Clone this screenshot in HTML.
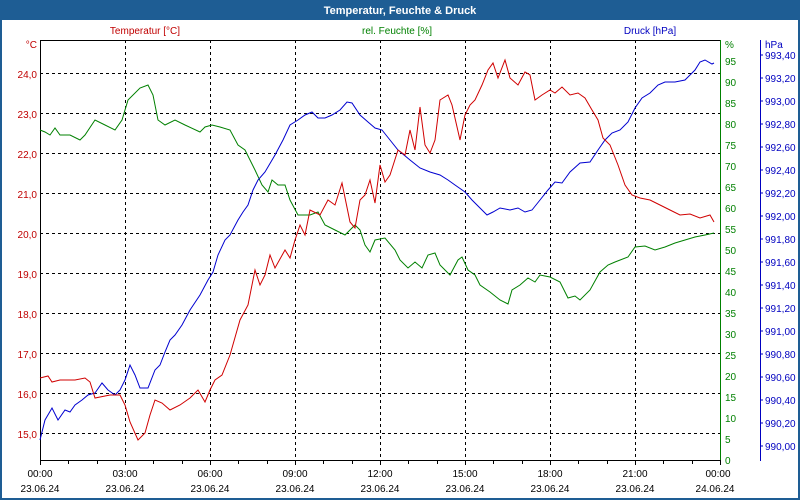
<!DOCTYPE html>
<html><head><style>
html,body{margin:0;padding:0;background:#fff}
svg{display:block;font-family:"Liberation Sans",sans-serif}
</style></head><body>
<svg width="800" height="500" viewBox="0 0 800 500" xmlns="http://www.w3.org/2000/svg">
<rect x="0" y="0" width="800" height="500" fill="#fff"/>
<rect x="1" y="1" width="798" height="498" fill="none" stroke="#1e5d94" stroke-width="2"/>
<rect x="0" y="0" width="800" height="20" fill="#1e5d94"/>
<text x="400" y="14" fill="#fff" font-size="11" font-weight="bold" text-anchor="middle">Temperatur, Feuchte &amp; Druck</text>
<g font-size="10">
<text x="145" y="34" fill="#c00000" text-anchor="middle">Temperatur [°C]</text>
<text x="397" y="34" fill="#008000" text-anchor="middle">rel. Feuchte [%]</text>
<text x="650" y="34" fill="#0000c0" text-anchor="middle">Druck [hPa]</text>
<text x="37" y="48" fill="#c00000" text-anchor="end">°C</text>
<text x="725" y="48" fill="#008000">%</text>
<text x="765" y="48" fill="#0000c0">hPa</text>
</g>
<!-- grid -->
<g stroke="#000" stroke-width="1" stroke-dasharray="3,3">
<line x1="40" y1="73.5" x2="720" y2="73.5"/><line x1="40" y1="113.5" x2="720" y2="113.5"/>
<line x1="40" y1="153.5" x2="720" y2="153.5"/><line x1="40" y1="193.5" x2="720" y2="193.5"/>
<line x1="40" y1="233.5" x2="720" y2="233.5"/><line x1="40" y1="273.5" x2="720" y2="273.5"/>
<line x1="40" y1="313.5" x2="720" y2="313.5"/><line x1="40" y1="353.5" x2="720" y2="353.5"/>
<line x1="40" y1="393.5" x2="720" y2="393.5"/><line x1="40" y1="433.5" x2="720" y2="433.5"/>
<line x1="125.5" y1="40" x2="125.5" y2="460"/><line x1="210.5" y1="40" x2="210.5" y2="460"/>
<line x1="295.5" y1="40" x2="295.5" y2="460"/><line x1="380.5" y1="40" x2="380.5" y2="460"/>
<line x1="465.5" y1="40" x2="465.5" y2="460"/><line x1="550.5" y1="40" x2="550.5" y2="460"/>
<line x1="635.5" y1="40" x2="635.5" y2="460"/>
</g>
<line x1="40" y1="40.5" x2="720" y2="40.5" stroke="#000"/>
<line x1="40.5" y1="40" x2="40.5" y2="461" stroke="#000"/>
<line x1="40" y1="460.5" x2="720" y2="460.5" stroke="#000"/>
<line x1="720.5" y1="40" x2="720.5" y2="461" stroke="#008000"/>
<line x1="760.5" y1="40" x2="760.5" y2="461" stroke="#0000c0"/>
<g stroke="#000">
<path d="M40.5 460v5M68.5 460v4M97.5 460v4M125.5 460v5M153.5 460v4M182.5 460v4M210.5 460v5M238.5 460v4M267.5 460v4M295.5 460v5M323.5 460v4M352.5 460v4M380.5 460v5M408.5 460v4M437.5 460v4M465.5 460v5M493.5 460v4M522.5 460v4M550.5 460v5M578.5 460v4M607.5 460v4M635.5 460v5M663.5 460v4M692.5 460v4M720.5 460v5"/>
</g>
<g font-size="10" fill="#c00000" text-anchor="end">
<text x="37" y="78">24,0</text><text x="37" y="118">23,0</text><text x="37" y="158">22,0</text>
<text x="37" y="198">21,0</text><text x="37" y="238">20,0</text><text x="37" y="278">19,0</text>
<text x="37" y="318">18,0</text><text x="37" y="358">17,0</text><text x="37" y="398">16,0</text>
<text x="37" y="438">15,0</text>
</g>
<g font-size="10" fill="#008000">
<text x="725" y="464">0</text><text x="725" y="443">5</text><text x="725" y="422">10</text>
<text x="725" y="401">15</text><text x="725" y="380">20</text><text x="725" y="359">25</text>
<text x="725" y="338">30</text><text x="725" y="317">35</text><text x="725" y="296">40</text>
<text x="725" y="275">45</text><text x="725" y="254">50</text><text x="725" y="233">55</text>
<text x="725" y="212">60</text><text x="725" y="191">65</text><text x="725" y="170">70</text>
<text x="725" y="149">75</text><text x="725" y="128">80</text><text x="725" y="107">85</text>
<text x="725" y="86">90</text><text x="725" y="65">95</text>
</g>
<g font-size="10" fill="#0000c0">
<path d="M760 446h3M760 423h3M760 400h3M760 377h3M760 354h3M760 331h3M760 308h3M760 285h3M760 262h3M760 239h3M760 216h3M760 193h3M760 170h3M760 147h3M760 124h3M760 101h3M760 78h3M760 55h3" stroke="#0000c0"/>
<text x="765" y="450">990,00</text><text x="765" y="427">990,20</text><text x="765" y="404">990,40</text>
<text x="765" y="381">990,60</text><text x="765" y="358">990,80</text><text x="765" y="335">991,00</text>
<text x="765" y="312">991,20</text><text x="765" y="289">991,40</text><text x="765" y="266">991,60</text>
<text x="765" y="243">991,80</text><text x="765" y="220">992,00</text><text x="765" y="197">992,20</text>
<text x="765" y="174">992,40</text><text x="765" y="151">992,60</text><text x="765" y="128">992,80</text>
<text x="765" y="105">993,00</text><text x="765" y="82">993,20</text><text x="765" y="59">993,40</text>
</g>
<g font-size="10" fill="#000" text-anchor="middle">
<text x="40" y="477">00:00</text><text x="125" y="477">03:00</text><text x="210" y="477">06:00</text>
<text x="295" y="477">09:00</text><text x="380" y="477">12:00</text><text x="465" y="477">15:00</text>
<text x="550" y="477">18:00</text><text x="635" y="477">21:00</text><text x="718" y="477">00:00</text>
<text x="40" y="492">23.06.24</text><text x="125" y="492">23.06.24</text><text x="210" y="492">23.06.24</text>
<text x="295" y="492">23.06.24</text><text x="380" y="492">23.06.24</text><text x="465" y="492">23.06.24</text>
<text x="550" y="492">23.06.24</text><text x="635" y="492">23.06.24</text><text x="715" y="492">24.06.24</text>
</g>
<g fill="none" stroke-width="1">
<polyline stroke="#008000" points="40,130 45,132 50,135 55,128 60,135 70,135 80,140 85,135 95,120 105,125 115,130 122,120 128,100 140,88 148,85 153,95 158,120 165,125 175,120 185,125 200,132 205,127 212,125 220,127 230,130 238,145 245,150 250,160 255,170 262,185 268,192 272,180 278,185 285,185 290,200 298,215 310,215 318,212 325,225 335,230 345,235 355,225 360,230 365,245 370,252 375,240 385,238 395,250 400,260 408,268 415,262 422,268 428,255 435,253 440,265 450,275 458,260 462,257 468,270 475,275 480,285 490,292 500,300 508,304 512,290 520,285 528,278 535,282 540,275 550,277 560,282 568,298 575,296 580,300 590,290 600,272 608,265 615,262 628,257 635,247 645,246 655,250 665,247 675,243 685,240 695,237 705,235 714,233"/>
<polyline stroke="#0000d0" points="40,440 45,420 52,408 58,420 65,410 70,412 75,405 82,400 88,395 95,393 102,383 108,390 115,395 120,390 125,380 130,365 135,375 140,388 148,388 155,370 160,365 165,352 170,340 175,335 182,325 190,310 200,295 208,280 213,272 218,255 225,240 230,235 238,220 243,212 248,205 253,190 258,180 265,172 275,155 283,140 290,125 298,120 305,115 312,112 318,118 325,118 332,115 340,110 347,102 352,103 360,115 368,122 375,128 382,130 390,140 398,150 410,160 420,168 430,172 440,175 448,180 455,185 465,192 472,200 480,208 487,215 493,212 500,208 510,210 518,208 525,212 532,210 540,200 548,190 555,182 562,183 570,172 580,163 590,162 598,150 605,140 612,133 620,130 628,122 635,108 642,98 650,93 658,85 665,82 675,82 685,80 690,75 695,70 700,62 705,60 712,64 714,63"/>
<polyline stroke="#d00000" points="40,378 48,376 52,382 60,380 75,380 85,378 90,382 95,398 110,395 120,395 125,405 130,422 138,440 145,433 150,415 155,400 162,403 170,410 180,405 190,398 198,390 205,402 210,390 215,380 222,375 230,355 240,320 248,305 255,270 260,285 265,275 270,255 275,268 285,250 290,258 295,240 300,225 305,235 310,210 320,215 328,200 335,205 342,183 350,222 355,228 360,200 365,195 370,180 375,203 380,165 385,182 390,175 398,150 405,155 410,130 415,150 420,107 425,145 430,153 435,140 440,100 448,95 452,105 460,140 465,115 470,105 475,100 482,85 488,70 493,63 498,78 505,60 510,78 518,85 525,72 530,75 535,100 542,95 550,90 555,93 562,87 570,95 578,93 585,98 592,110 598,120 603,138 610,145 618,165 625,185 632,195 640,198 650,200 660,205 670,210 680,215 690,214 700,218 710,215 714,222"/>
</g>
</svg>
</body></html>
